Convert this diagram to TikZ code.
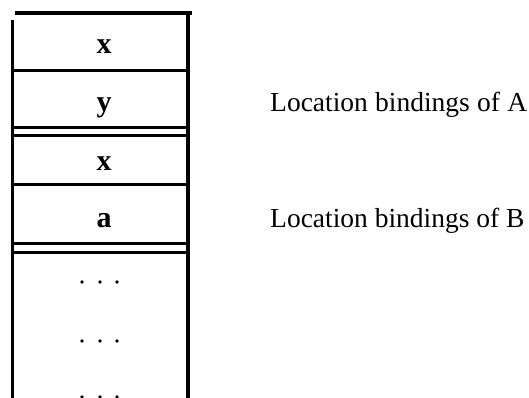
\documentclass[tikz,border=0pt]{standalone}
\usepackage{fontspec}
\setmainfont{Liberation Serif}
\begin{document}
\begin{tikzpicture}[x=1pt,y=-1pt,
  cellname/.style={font=\fontsize{30}{32}\selectfont\bfseries, inner sep=0pt, anchor=base},
  caption/.style={font=\fontsize{27.5}{30}\selectfont, inner sep=0pt, anchor=base west},
  sep/.style={line width=3pt},
  dotmark/.style={fill=black, draw=none}]
\useasboundingbox (0,0) rectangle (529,398);
\clip (0,0) rectangle (529,398);
% frame
\draw[line width=4.5pt] (15,13) -- (192,13);
\draw[line width=3pt] (12,20) -- (12,398);
\draw[line width=4.2pt] (188,13) -- (188,398);
% separators
\draw[sep] (12,71) -- (188,71);
\draw[sep] (12,128) -- (188,128);
\draw[sep] (12,136) -- (188,136);
\draw[sep] (12,184) -- (188,184);
\draw[sep] (12,243) -- (188,243);
\draw[sep] (12,252) -- (188,252);
% cell labels
\node[cellname] (c1) at (104,54) {x};
\node[cellname] (c2) at (104,112) {y};
\node[cellname] (c3) at (104,170) {x};
\node[cellname] (c4) at (104,227) {a};
% dots
\foreach \yy in {282,341,397} {
  \fill[dotmark] (82,\yy) circle (1.8);
  \fill[dotmark] (100,\yy) circle (1.8);
  \fill[dotmark] (117,\yy) circle (1.8);
}
% captions
\node[caption] (la) at (270,112) {\makebox[257pt][s]{Location bindings of A}};
\node[caption] (lb) at (270,227) {Location bindings of B};
\end{tikzpicture}
\end{document}
